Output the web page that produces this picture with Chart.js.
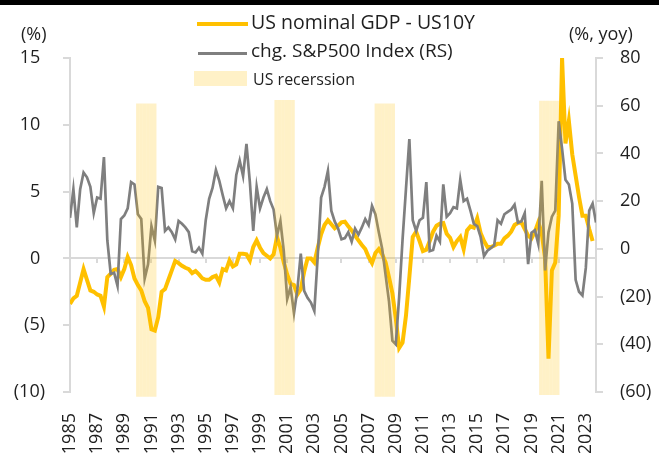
<!DOCTYPE html>
<html>
<head>
<meta charset="utf-8">
<title>US nominal GDP - US10Y vs S&amp;P500</title>
<script src="https://cdn.jsdelivr.net/npm/chart.js@4.4.1/dist/chart.umd.min.js"></script>
<style>
  html, body { margin: 0; padding: 0; background: #fff; }
  #wrap { position: relative; width: 659px; height: 453px; font-family: "Open Sans", sans-serif; color: #1f1f1f; }
  #chart { position: absolute; left: 0; top: 0; }
  #topbar { position: absolute; left: 0; top: 0; width: 659px; height: 5px; background: #000; }
  .txt { position: absolute; font-size: 18px; line-height: 1; white-space: nowrap; }
  .key { position: absolute; }
</style>
</head>
<body>
<div id="wrap">
  <canvas id="chart" width="659" height="453"></canvas>
  <div id="topbar"></div>
  <div class="txt" style="left:21px; top:24px;">(%)</div>
  <div class="txt" style="left:569px; top:23.5px;">(%, yoy)</div>

  <div class="key" style="left:197px; top:22px; width:51px; height:4px; background:#FFC000;"></div>
  <div class="txt" style="left:251px; top:11.6px; font-size:19.5px;">US nominal GDP - US10Y</div>
  <div class="key" style="left:198px; top:52px; width:49px; height:3px; background:#7f7f7f;"></div>
  <div class="txt" style="left:251px; top:41.4px; font-size:19px;">chg. S&amp;P500 Index (RS)</div>
  <div class="key" style="left:194px; top:71px; width:53px; height:15px; background:rgba(255,192,0,0.22);"></div>
  <div class="txt" style="left:253px; top:70.5px; font-size:16px;">US recerssion</div>
</div>

<script>
// Quarterly series, first point is 1985 Q1
const START_YEAR = 1985;

// US nominal GDP yoy minus US 10Y yield (%, left axis), 1985Q1 - 2023Q3
const gdpMinus10y = [
  -3.4, -3.0, -2.8, -1.8, -0.8, -1.6, -2.4, -2.5, -2.7, -2.8,
  -3.6, -1.4, -1.15, -0.85, -0.8, -1.4, -0.8, 0.1, -0.5, -1.5,
  -2.0, -2.4, -3.2, -3.7, -5.3, -5.4, -4.4, -2.5, -2.3, -1.6,
  -0.9, -0.2, -0.35, -0.55, -0.7, -0.8, -1.1, -0.95, -1.2, -1.5,
  -1.6, -1.6, -1.4, -1.3, -1.8, -0.8, -0.9, -0.15, -0.6, -0.45,
  0.35, 0.35, 0.3, -0.15, 0.85, 1.35, 0.8, 0.4, 0.2, 0.0,
  0.3, 1.6, 0.8, -0.3, -1.2, -1.9, -2.0, -2.7, -2.3, -1.0,
  0.0, 0.0, -0.3, 0.8, 1.8, 2.5, 2.85, 2.55, 2.25, 2.45,
  2.7, 2.75, 2.4, 2.1, 1.7, 1.35, 1.0, 0.7, 0.1, -0.35,
  0.4, 0.7, 0.3, -0.3, -1.4, -2.6, -4.5, -6.7, -6.3, -4.3,
  -1.4, 1.6, 2.0, 1.3, 0.55, 0.65, 1.3, 2.0, 2.45, 2.6,
  2.65, 1.85, 1.55, 0.85, 1.3, 1.6, 0.7, 2.1, 2.4, 2.3,
  3.0, 1.9, 1.3, 0.85, 0.85, 0.95, 1.1, 1.1, 1.5, 1.7,
  2.0, 2.5, 2.65, 2.7, 2.2, 1.7, 1.5, 2.0, 2.7, 1.9,
  0.0, -7.5, -0.9, -0.3, 3.2, 15.0, 8.6, 10.3, 7.8, 6.2,
  4.6, 3.2, 3.2, 2.2, 1.3
];

// S&P500 index, % yoy (right axis), 1985Q1 - 2023Q4
const spxYoy = [
  13, 25, 9, 25, 32, 30, 26, 15, 21.5, 21,
  38.5, 3.5, -10.5, -10, -15.5, 12.5, 14, 17, 28, 27,
  14.5, 12.5, -12.5, -6.5, 9.5, 3.5, 26, 25.5, 7.5, 9,
  7, 4, 11.7, 10.5, 9, 7, -1, -1.5, 0.5, -2,
  12, 21, 25.5, 33, 28.5, 22.5, 17, 20, 17, 31,
  37, 30.5, 44, 28, 7.5, 26, 17, 21.5, 25, 20,
  16.5, 5.5, 11.7, -1, -21, -16, -27, -17, -2, -17.6,
  -20.5, -22.5, -26, -3, 21.5, 26, 32.7, 16, 11.5, 8.5,
  4, 4.5, 7, 3, 8.5, 6, 9, 12.5, 10, 18,
  14.5, 7, 0, -11, -22, -38.5, -40, -20, 4, 25,
  46, 12, 7.5, 12, 13, 28, -1, -0.5, 5.5, 3,
  27, 13.5, 15, 17.5, 17, 29, 20, 21, 16, 10.5,
  9.5, 5, -3, -0.8, 0.3, 1.5, 12, 10.5, 14.5, 15.5,
  16.5, 18.5, 11, 11.5, 15, -6.4, 6.8, 7.8, 2, 28.5,
  -9, 7, 13.5, 16, 53.5, 42, 29, 27, 19, -13,
  -18, -19.5, -8, 16, 19, 11
];

// Recession shading: start year, number of quarters, band top / bottom on left axis
const recessionStart = [1989.87, 2000.06, 2007.44, 2019.56];
const recessionQuarters = [6, 6, 6, 6];
const recessionTop = [11.6, 11.85, 11.6, 11.8];
const recessionBottom = [-10.35, -10.22, -10.35, -10.22];

// Axis ranges and tick labels
const xRange = [1985, 2023.75];
const yearTicks = [1985, 1987, 1989, 1991, 1993, 1995, 1997, 1999, 2001, 2003,
                   2005, 2007, 2009, 2011, 2013, 2015, 2017, 2019, 2021, 2023];
const leftRange = [-10, 15];
const rightRange = [-60, 80];

const TEXT = '#1f1f1f';
const AXIS = '#d9d9d9';

function toPoints(values) {
    return values.map((v, i) => ({ x: START_YEAR + i / 4, y: v }));
}

function recessionBars() {
    const bars = [];
    recessionStart.forEach((s, k) => {
        for (let q = 0; q < recessionQuarters[k]; q++) {
            bars.push({ x: s + 0.125 + q * 0.25, y: [recessionBottom[k], recessionTop[k]] });
        }
    });
    return bars;
}

function paren(v) {
    return v < 0 ? '(' + (-v) + ')' : String(v);
}

function useYearTicks(scale) {
    scale.ticks = yearTicks.map(v => ({ value: v }));
}

Chart.defaults.font.family = "'Open Sans', sans-serif";
Chart.defaults.font.size = 18;
Chart.defaults.color = TEXT;

const ctx = document.getElementById('chart');
new Chart(ctx, {
    type: 'line',
    data: {
        datasets: [
            {
                type: 'bar',
                label: 'US recerssion',
                data: recessionBars(),
                xAxisID: 'x',
                yAxisID: 'y',
                backgroundColor: 'rgba(255, 192, 0, 0.22)',
                borderWidth: 0,
                inflateAmount: 0,
                barPercentage: 1,
                categoryPercentage: 1,
                clip: false,
                order: 0
            },
            {
                label: 'chg. S&P500 Index (RS)',
                data: toPoints(spxYoy),
                xAxisID: 'x',
                yAxisID: 'y1',
                borderColor: '#7f7f7f',
                borderWidth: 2.7,
                pointRadius: 0,
                tension: 0,
                order: 1
            },
            {
                label: 'US nominal GDP - US10Y',
                data: toPoints(gdpMinus10y),
                xAxisID: 'x',
                yAxisID: 'y',
                borderColor: '#FFC000',
                borderWidth: 4,
                pointRadius: 0,
                tension: 0,
                order: 2
            }
        ]
    },
    options: {
        responsive: false,
        animation: false,
        layout: { padding: { top: 58, left: 0, right: 0, bottom: 0 } },
        plugins: {
            legend: { display: false },
            tooltip: { enabled: false }
        },
        scales: {
            x: {
                type: 'linear',
                position: 'bottom',
                min: xRange[0],
                max: xRange[1],
                offset: false,
                afterBuildTicks: useYearTicks,
                grid: { display: false, drawTicks: false },
                border: { display: false },
                ticks: {
                    autoSkip: false,
                    maxRotation: 90,
                    minRotation: 90,
                    padding: 21,
                    color: TEXT,
                    callback: v => String(v)
                },
                afterFit: s => { s.height = 61; }
            },
            xz: {
                type: 'linear',
                position: { y: 0 },
                min: xRange[0],
                max: xRange[1],
                offset: false,
                afterBuildTicks: useYearTicks,
                grid: { drawOnChartArea: false, drawTicks: true, tickLength: 5, color: AXIS, lineWidth: 2 },
                border: { display: false },
                ticks: { display: false }
            },
            y: {
                position: 'left',
                min: leftRange[0],
                max: leftRange[1],
                grid: {
                    color: c => (c.tick && c.tick.value === 0) ? AXIS : 'rgba(0,0,0,0)',
                    tickColor: AXIS,
                    tickLength: 7,
                    lineWidth: 2
                },
                border: { color: AXIS, width: 2 },
                ticks: {
                    stepSize: 5,
                    padding: 18,
                    color: TEXT,
                    callback: v => v < 0 ? paren(v) : v + ' '
                },
                afterFit: s => { s.width = 70; }
            },
            y1: {
                position: 'right',
                min: rightRange[0],
                max: rightRange[1],
                grid: { drawOnChartArea: false, color: AXIS, tickLength: 7, lineWidth: 2 },
                border: { color: AXIS, width: 2 },
                ticks: {
                    stepSize: 20,
                    padding: 17,
                    color: TEXT,
                    callback: v => paren(v)
                },
                afterFit: s => { s.width = 63; }
            }
        }
    }
});
</script>
</body>
</html>
